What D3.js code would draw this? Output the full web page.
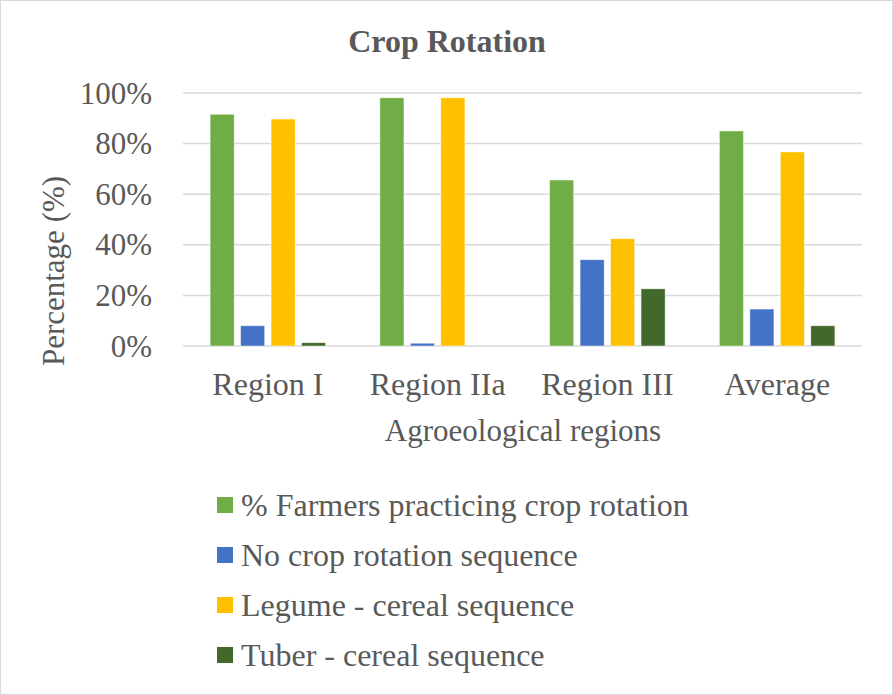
<!DOCTYPE html>
<meta charset="utf-8">
<style>
  body { margin: 0; background: #fff; }
  svg { display: block; }
  text { font-family: "Liberation Serif", "Times New Roman", serif; fill: #595959; }
</style>
<body>
<script src="https://cdn.jsdelivr.net/npm/d3@7"></script>
<script>
  'use strict';

  const regions = ["Region I", "Region IIa", "Region III", "Average"];
  const seriesNames = [
    "% Farmers practicing crop rotation",
    "No crop rotation sequence",
    "Legume - cereal sequence",
    "Tuber - cereal sequence"
  ];
  const seriesColors = ["#70AD47", "#4472C4", "#FFC000", "#43682B"];
  // one array per series, in region order (percent)
  const practicing = [91.6, 98.1, 65.6, 85.0];
  const noRotation = [8.0, 1.1, 34.1, 14.6];
  const legumeCereal = [89.7, 98.1, 42.4, 76.7];
  const tuberCereal = [1.3, 0, 22.6, 8.0];
  const yTicks = [0, 20, 40, 60, 80, 100];

  const series = [practicing, noRotation, legumeCereal, tuberCereal];

  const W = 893, H = 695;
  const plot = {left: 183, right: 862, top: 93, bottom: 346};

  const svg = d3.select("body").append("svg")
      .attr("width", W)
      .attr("height", H);

  svg.append("rect")
      .attr("x", 0.5).attr("y", 0.5)
      .attr("width", W - 1).attr("height", H - 1)
      .attr("fill", "#fff")
      .attr("stroke", "#d9d9d9");

  const x0 = d3.scaleBand().domain(regions).range([plot.left, plot.right]);
  const x1 = d3.scaleBand().domain(d3.range(seriesNames.length))
      .range([0, x0.bandwidth()])
      .paddingInner(0.21)
      .paddingOuter(0.89);
  const y = d3.scaleLinear().domain([0, 100]).range([plot.bottom, plot.top]);

  // gridlines
  svg.append("g").selectAll("line")
      .data(yTicks)
      .join("line")
      .attr("x1", plot.left).attr("x2", plot.right)
      .attr("y1", d => y(d)).attr("y2", d => y(d))
      .attr("stroke", "#d9d9d9")
      .attr("stroke-width", 1.5);

  // y tick labels
  svg.append("g").selectAll("text")
      .data(yTicks)
      .join("text")
      .attr("x", 152)
      .attr("y", d => y(d))
      .attr("dy", "0.34em")
      .attr("text-anchor", "end")
      .style("font-size", "31px")
      .text(d => d + "%");

  // bars
  const groups = svg.append("g").selectAll("g")
      .data(regions)
      .join("g")
      .attr("transform", d => `translate(${x0(d)},0)`);

  groups.selectAll("rect")
      .data((d, i) => series.map((s, k) => ({k: k, v: s[i]})))
      .join("rect")
      .filter(d => d.v > 0)
      .attr("x", d => x1(d.k))
      .attr("width", x1.bandwidth())
      .attr("y", d => y(d.v))
      .attr("height", d => y(0) - y(d.v))
      .attr("fill", d => seriesColors[d.k])
      .attr("stroke", "#fff")
      .attr("stroke-opacity", 0.6)
      .attr("stroke-width", 0.75);

  // category labels
  svg.append("g").selectAll("text")
      .data(regions)
      .join("text")
      .attr("x", d => x0(d) + x0.bandwidth() / 2)
      .attr("y", 395)
      .attr("text-anchor", "middle")
      .style("font-size", "32px")
      .text(d => d);

  // title
  svg.append("text")
      .attr("x", 447)
      .attr("y", 52)
      .attr("text-anchor", "middle")
      .style("font-size", "32px")
      .style("font-weight", "bold")
      .text("Crop Rotation");

  // axis titles
  svg.append("text")
      .attr("x", 523)
      .attr("y", 441)
      .attr("text-anchor", "middle")
      .style("font-size", "31px")
      .text("Agroeological regions");

  svg.append("text")
      .attr("transform", "translate(64,271) rotate(-90)")
      .attr("text-anchor", "middle")
      .style("font-size", "31px")
      .text("Percentage (%)");

  // legend
  const legend = svg.append("g").selectAll("g")
      .data(seriesNames)
      .join("g")
      .attr("transform", (d, i) => `translate(217,${497 + i * 50})`);

  legend.append("rect")
      .attr("width", 16).attr("height", 16)
      .attr("fill", (d, i) => seriesColors[i]);

  legend.append("text")
      .attr("x", 24)
      .attr("y", 19)
      .style("font-size", "32px")
      .text(d => d);
</script>
</body>
